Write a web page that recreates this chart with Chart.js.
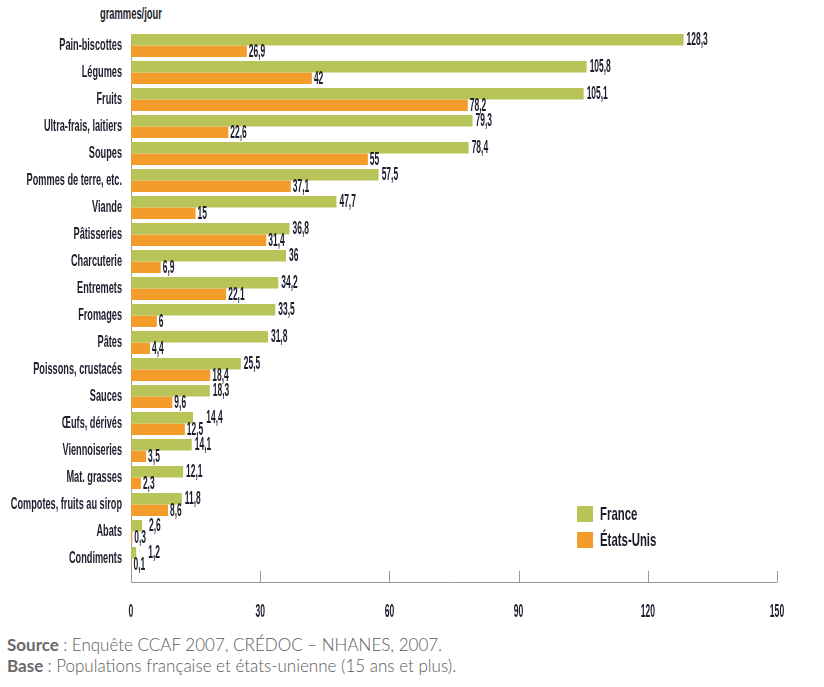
<!DOCTYPE html>
<html lang="fr">
<head>
    <meta charset="UTF-8">
    <title>Consommation en grammes/jour - France / États-Unis</title>
    <style>
        * { margin: 0; padding: 0; box-sizing: border-box; }
        body { background: #fff; width: 824px; height: 687px; position: relative; overflow: hidden; }
        .narrow { font-family: "Liberation Sans", Arial, sans-serif; font-weight: bold; color: #1c1c2c; transform-origin: 0 50%; }
        #unit { position: absolute; left: 100px; top: 4px; font-size: 17px; transform: scaleX(0.55); }
        #chart-box { position: absolute; left: 0; top: 0; width: 824px; height: 620px; }
        .legend { position: absolute; left: 577px; top: 501px; font-size: 19px; }
        .legend div { display: flex; align-items: center; height: 26px; }
        .legend span { display: inline-block; width: 16px; height: 16px; margin-right: 7px; }
        .legend em { font-style: normal; display: inline-block; transform: scaleX(0.6); transform-origin: 0 50%; }
        .notes { position: absolute; left: 7px; top: 634px; font-family: Lato, "Open Sans", sans-serif; font-size: 17px; color: #5a5a5a; line-height: 21px; font-weight: 300; }
        .notes b { color: #6a6a6a; font-weight: 700; }
    </style>
</head>
<body>
    <div id="unit" class="narrow">grammes/jour</div>
    <div id="chart-box"><canvas id="chart" width="824" height="620"></canvas></div>
    <div class="legend narrow">
        <div><span style="background:#b8c457"></span><em>France</em></div>
        <div><span style="background:#f49c2b"></span><em>États-Unis</em></div>
    </div>
    <div class="notes">
        <p><b>Source</b>&#8239;: Enquête CCAF 2007, CRÉDOC – NHANES, 2007.</p>
        <p><b>Base</b>&#8239;: Populations française et états-unienne (15 ans et plus).</p>
    </div>

    <script src="https://cdn.jsdelivr.net/npm/chart.js"></script>
    <script>
        const categories = ['Pain-biscottes', 'Légumes', 'Fruits', 'Ultra-frais, laitiers', 'Soupes',
            'Pommes de terre, etc.', 'Viande', 'Pâtisseries', 'Charcuterie', 'Entremets', 'Fromages',
            'Pâtes', 'Poissons, crustacés', 'Sauces', 'Œufs, dérivés', 'Viennoiseries', 'Mat. grasses',
            'Compotes, fruits au sirop', 'Abats', 'Condiments'];
        const france = [128.3, 105.8, 105.1, 79.3, 78.4, 57.5, 47.7, 36.8, 36, 34.2, 33.5, 31.8, 25.5, 18.3, 14.4, 14.1, 12.1, 11.8, 2.6, 1.2];
        const etatsUnis = [26.9, 42, 78.2, 22.6, 55, 37.1, 15, 31.4, 6.9, 22.1, 6, 4.4, 18.4, 9.6, 12.5, 3.5, 2.3, 8.6, 0.3, 0.1];
        const xTicks = [0, 30, 60, 90, 120, 150];

        const GREEN = '#b8c457';
        const ORANGE = '#f49c2b';
        const AXIS = '#9a9a9a';
        const FONT = '"Liberation Sans", Arial, sans-serif';
        const INK = '#1c1c2c';

        const fmt = v => String(v).replace('.', ',');

        // the original uses a very condensed face: squeeze tick labels horizontally,
        // keeping each label's anchor in place
        function condense(scale, k) {
            if (scale._condensed) return;
            scale._condensed = true;
            scale._computeLabelArea = () => undefined;   // no clip, it would be squeezed too
            const orig = scale.drawLabels;
            scale.drawLabels = function (area) {
                const items = this.getLabelItems(area);
                const xs = items.map(it => it.options.translation[0]);
                items.forEach(it => { it.options.translation[0] /= k; });
                this.ctx.save();
                this.ctx.scale(k, 1);
                orig.call(this, area);
                this.ctx.restore();
                items.forEach((it, i) => { it.options.translation[0] = xs[i]; });
            };
        }

        const narrowTicks = {
            id: 'narrowTicks',
            beforeDraw(chart) {
                condense(chart.scales.x, 0.45);
                condense(chart.scales.y, 0.54);
            }
        };

        // axis lines with ticks pointing up, like the original
        const axisLines = {
            id: 'axisLines',
            beforeDatasetsDraw(chart) {
                const { ctx, chartArea, scales } = chart;
                const base = chartArea.bottom + 10;
                ctx.save();
                ctx.strokeStyle = AXIS;
                ctx.lineWidth = 1;
                ctx.beginPath();
                ctx.moveTo(scales.x.getPixelForValue(0) + 0.5, chartArea.top + 2);
                ctx.lineTo(scales.x.getPixelForValue(0) + 0.5, base + 0.5);
                ctx.lineTo(scales.x.getPixelForValue(xTicks[xTicks.length - 1]) + 0.5, base + 0.5);
                xTicks.forEach(t => {
                    const x = Math.round(scales.x.getPixelForValue(t)) + 0.5;
                    ctx.moveTo(x, base);
                    ctx.lineTo(x, base - 11);
                });
                ctx.stroke();
                ctx.restore();
            }
        };

        // value labels at bar ends, green label pushed right if the orange one runs past its bar
        const valueLabels = {
            id: 'valueLabels',
            afterDatasetsDraw(chart) {
                const { ctx } = chart;
                const fr = chart.getDatasetMeta(0).data;
                const us = chart.getDatasetMeta(1).data;
                const k = 0.47;
                const put = (txt, x, y) => {
                    ctx.save();
                    ctx.translate(x, y);
                    ctx.scale(k, 1);
                    ctx.fillText(txt, 0, 0);
                    ctx.restore();
                };
                ctx.save();
                ctx.font = 'bold 18px ' + FONT;
                ctx.fillStyle = INK;
                ctx.textBaseline = 'middle';
                categories.forEach((c, i) => {
                    const usTxt = fmt(etatsUnis[i]);
                    const frTxt = fmt(france[i]);
                    const usX = us[i].x + 2;
                    const usRight = usX + ctx.measureText(usTxt).width * k;
                    let frX = fr[i].x + 3;
                    if (usRight > fr[i].x) frX = usRight + 3;
                    put(usTxt, usX, us[i].y + 1);
                    put(frTxt, frX, fr[i].y);
                });
                ctx.restore();
            }
        };

        new Chart(document.getElementById('chart'), {
            type: 'bar',
            data: {
                labels: categories,
                datasets: [
                    { label: 'France', data: france, backgroundColor: GREEN },
                    { label: 'États-Unis', data: etatsUnis, backgroundColor: ORANGE }
                ]
            },
            options: {
                indexAxis: 'y',
                responsive: false,
                animation: false,
                layout: { padding: { top: 32, right: 47, left: 0, bottom: 0 } },
                datasets: { bar: { barPercentage: 1, categoryPercentage: 0.852 } },
                plugins: { legend: { display: false }, tooltip: { enabled: false } },
                scales: {
                    x: {
                        min: 0, max: 150,
                        afterBuildTicks: s => { s.ticks = xTicks.map(v => ({ value: v })); },
                        afterFit: s => { s.height = 48; },
                        grid: { display: false },
                        border: { display: false },
                        ticks: { padding: 20, color: INK, font: { family: FONT, size: 19, weight: 'bold' } }
                    },
                    y: {
                        afterFit: s => { s.width = 131; },
                        grid: { display: false, drawTicks: false },
                        border: { display: false },
                        ticks: { padding: 9, color: INK, font: { family: FONT, size: 17, weight: 'bold' } }
                    }
                }
            },
            plugins: [narrowTicks, axisLines, valueLabels]
        });
    </script>
</body>
</html>
